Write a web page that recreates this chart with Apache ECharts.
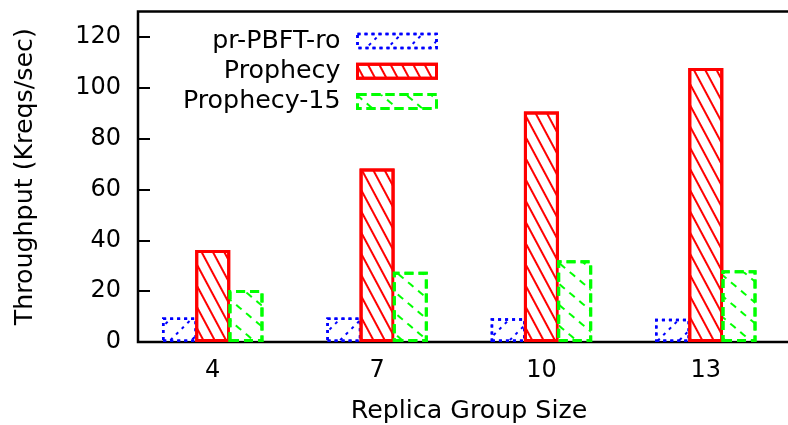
<!DOCTYPE html>
<html>
<head>
<meta charset="utf-8">
<script src="https://cdn.jsdelivr.net/npm/echarts@6/dist/echarts.min.js"></script>
<style>
html,body{margin:0;padding:0;background:#fff;}
#chart{width:788px;height:425px;}
</style>
</head>
<body>
<div id="chart"></div>
<script>
const groupSizes = [4, 7, 10, 13];
const prPBFTro = [9.6, 9.6, 9.3, 9.1];
const prophecy = [36.2, 68.2, 90.7, 107.8];
const prophecy15 = [20.5, 27.6, 32.2, 28.2];
const yTicks = [0, 20, 40, 60, 80, 100, 120];
const seriesNames = ['pr-PBFT-ro', 'Prophecy', 'Prophecy-15'];

const FONT = 'DejaVu Sans';
const FS = 25.3;
const TFS = 24;

function pairs(vals) { return groupSizes.map((g, i) => [g, vals[i]]); }

const styles = [
  {
    color: '#ffffff', borderColor: '#0000ff', borderWidth: 2.5, borderType: [3, 4],
    decal: {symbol: 'rect', symbolSize: 1, dashArrayX: [3, 5], dashArrayY: [1.5, 13], rotation: -Math.PI / 4, color: '#0000ff'}
  },
  {
    color: '#ffffff', borderColor: '#ff0000', borderWidth: 3, borderType: 'solid',
    decal: {symbol: 'rect', symbolSize: 1, dashArrayX: [1, 0], dashArrayY: [1.3, 7.5], rotation: 1.08, color: '#ff0000'}
  },
  {
    color: '#ffffff', borderColor: '#00ff00', borderWidth: 3, borderType: [9, 5],
    decal: {symbol: 'rect', symbolSize: 1, dashArrayX: [7, 6], dashArrayY: [1.5, 14], rotation: 0.7, color: '#00ff00'}
  }
];

const chart = echarts.init(document.getElementById('chart'), null, {renderer: 'canvas'});
chart.setOption({
  animation: false,
  backgroundColor: '#ffffff',
  textStyle: {fontFamily: FONT},
  grid: {
    left: 138, top: 11.5, bottom: 83, right: -12,
    outerBoundsMode: 'none', containLabel: false,
    show: true, borderColor: '#000', borderWidth: 2.5, backgroundColor: 'transparent'
  },
  legend: {
    orient: 'vertical', align: 'right', icon: 'rect',
    right: 350, top: 28.5, padding: 0,
    itemWidth: 79, itemHeight: 14, itemGap: 5.2,
    textStyle: {fontFamily: FONT, fontSize: FS, color: '#000', padding: [0, 12, 0, 0]},
    data: seriesNames.map((n, i) => ({
      name: n,
      itemStyle: {borderColor: styles[i].borderColor, borderWidth: styles[i].borderWidth, borderType: styles[i].borderType}
    }))
  },
  xAxis: {
    type: 'value', min: 2.636, max: 14.72,
    name: 'Replica Group Size', nameLocation: 'middle', nameGap: 57,
    nameTextStyle: {fontFamily: FONT, fontSize: FS, color: '#000'},
    axisLine: {show: false},
    axisTick: {show: false},
    splitLine: {show: false},
    axisLabel: {customValues: groupSizes, fontFamily: FONT, fontSize: TFS, color: '#000', margin: 17}
  },
  yAxis: {
    type: 'value', min: 0, max: 130, interval: 20,
    name: 'Throughput (Kreqs/sec)', nameLocation: 'middle', nameGap: 100, nameRotate: 90,
    nameTextStyle: {fontFamily: FONT, fontSize: FS, color: '#000'},
    axisLine: {show: false},
    axisTick: {show: true, inside: true, length: 12, customValues: yTicks, lineStyle: {color: '#000', width: 2}},
    splitLine: {show: false},
    axisLabel: {customValues: yTicks, fontFamily: FONT, fontSize: TFS, color: '#000', margin: 17}
  },
  series: [
    {name: seriesNames[0], type: 'bar', barWidth: 35, barGap: '-5%', data: pairs(prPBFTro), itemStyle: styles[0]},
    {name: seriesNames[1], type: 'bar', barWidth: 35, barGap: '-5%', data: pairs(prophecy), itemStyle: styles[1]},
    {name: seriesNames[2], type: 'bar', barWidth: 35, barGap: '-5%', data: pairs(prophecy15), itemStyle: styles[2]}
  ]
});
</script>
</body>
</html>
